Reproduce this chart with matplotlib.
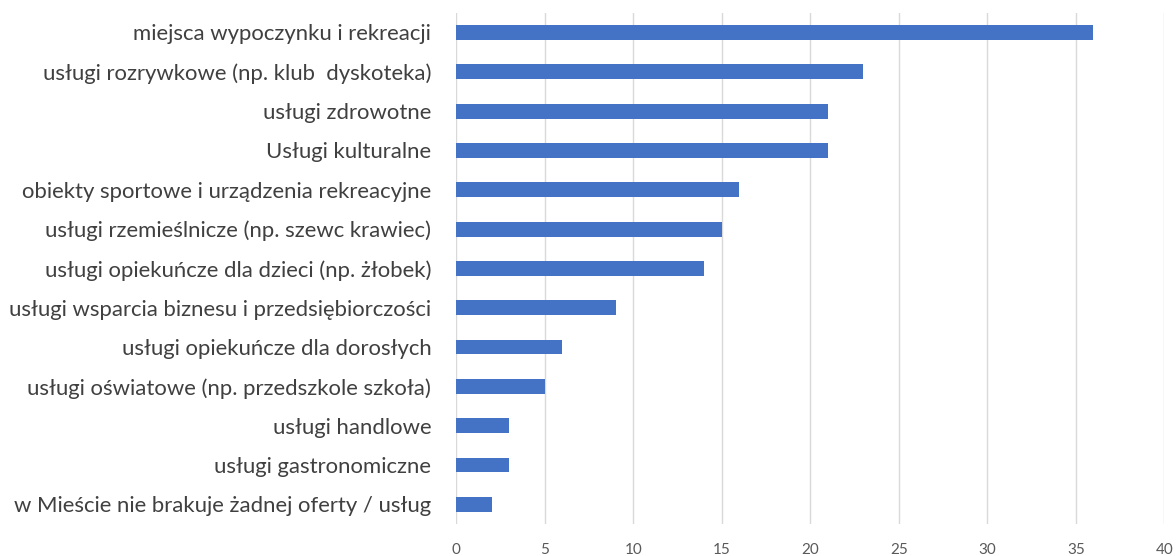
import matplotlib.pyplot as plt

categories = [
    'miejsca wypoczynku i rekreacji',
    'usługi rozrywkowe (np. klub  dyskoteka)',
    'usługi zdrowotne',
    'Usługi kulturalne',
    'obiekty sportowe i urządzenia rekreacyjne',
    'usługi rzemieślnicze (np. szewc krawiec)',
    'usługi opiekuńcze dla dzieci (np. żłobek)',
    'usługi wsparcia biznesu i przedsiębiorczości',
    'usługi opiekuńcze dla dorosłych',
    'usługi oświatowe (np. przedszkole szkoła)',
    'usługi handlowe',
    'usługi gastronomiczne',
    'w Mieście nie brakuje żadnej oferty / usług',
]
values = [36, 23, 21, 21, 16, 15, 14, 9, 6, 5, 3, 3, 2]
xticks = [0, 5, 10, 15, 20, 25, 30, 35, 40]

plt.rcParams['font.family'] = ['Lato', 'DejaVu Sans']

fig = plt.figure(figsize=(11.76, 5.56), dpi=100)
ax = fig.add_axes([0.388, 0.0576, 0.602, 0.9194])

ax.barh(range(len(categories)), values, height=0.38, color='#4472C4', zorder=3)
ax.set_ylim(len(categories) - 0.5, -0.5)
ax.set_xlim(0, 40)
ax.set_yticks(range(len(categories)))
ax.set_yticklabels(categories, fontsize=15.9, color='#404040')
ax.set_xticks(xticks)
ax.set_xticklabels([str(t) for t in xticks], fontsize=11, color='#595959')
ax.tick_params(length=0)
ax.tick_params(axis='y', pad=18)
ax.tick_params(axis='x', pad=14)
ax.grid(axis='x', color='#D9D9D9', linewidth=1, zorder=0)
for s in ax.spines.values():
    s.set_visible(False)

fig.savefig('out.png', dpi=100)
